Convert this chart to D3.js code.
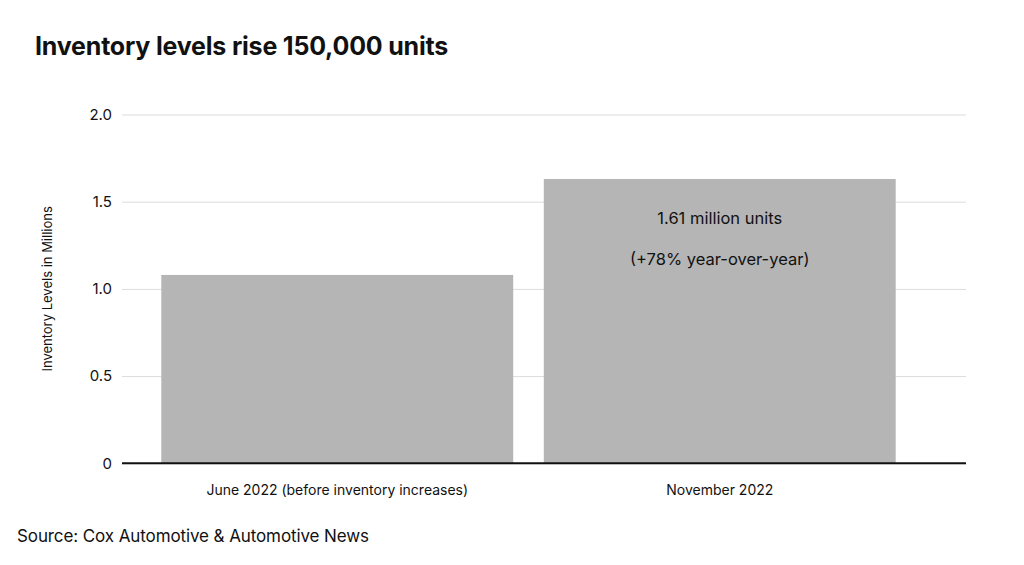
<!DOCTYPE html>
<html>
<head>
<meta charset="utf-8">
<script src="https://cdn.jsdelivr.net/npm/d3@7"></script>
<style>
	body { margin: 0; background: #fff; }
	svg { display: block; font-family: Inter, "Noto Sans", sans-serif; }
</style>
</head>
<body>
<div id="chart"></div>
<script>
// dati
const categories = ["June 2022 (before inventory increases)", "November 2022"];
const values = [1.08, 1.63];
const yTicks = [0, 0.5, 1.0, 1.5, 2.0];
const annotationLines = ["1.61 million units", "(+78% year-over-year)"];

const W = 1024, H = 565;
const plot = { left: 122, right: 966, top: 114.5, bottom: 463.3 };

const svg = d3.select("#chart").append("svg")
	.attr("width", W)
	.attr("height", H);

// scales
const y = d3.scaleLinear().domain([0, 2]).range([plot.bottom, plot.top]);
const x = d3.scaleBand()
	.domain(categories)
	.range([146, 911])
	.paddingInner(0.08)
	.paddingOuter(0.04);

// title
svg.append("text")
	.attr("x", 35)
	.attr("y", 55)
	.style("font-size", "25px")
	.style("font-weight", 700)
	.style("letter-spacing", "-0.2px")
	.style("fill", "#111")
	.text("Inventory levels rise 150,000 units");

// gridlines + tick labels
const yAxis = d3.axisLeft(y)
	.tickValues(yTicks)
	.tickSize(-(plot.right - plot.left))
	.tickPadding(10)
	.tickFormat(d => d === 0 ? "0" : d3.format(".1f")(d));

const gy = svg.append("g")
	.attr("transform", "translate(" + plot.left + ",0)")
	.call(yAxis);
gy.select(".domain").remove();
gy.selectAll(".tick line").attr("stroke", "#dcdcdc").attr("stroke-width", 1);
gy.selectAll(".tick text")
	.style("font-size", "15px")
	.style("fill", "#111")
	.style("font-family", "Inter, sans-serif");

// y label
svg.append("text")
	.attr("transform", "translate(52," + (plot.top + plot.bottom) / 2 + ") rotate(-90)")
	.attr("text-anchor", "middle")
	.style("font-size", "13px")
	.style("fill", "#111")
	.text("Inventory Levels in Millions");

// bars
svg.selectAll(".bar")
	.data(values)
	.enter().append("rect")
	.attr("class", "bar")
	.attr("x", (d, i) => x(categories[i]))
	.attr("width", x.bandwidth())
	.attr("y", d => y(d))
	.attr("height", d => y(0) - y(d))
	.attr("fill", "#b5b5b5");

// zero line
svg.append("line")
	.attr("x1", plot.left)
	.attr("x2", plot.right)
	.attr("y1", y(0))
	.attr("y2", y(0))
	.attr("stroke", "#111")
	.attr("stroke-width", 2);

// category labels
const gx = svg.append("g")
	.attr("transform", "translate(0," + y(0) + ")")
	.call(d3.axisBottom(x).tickSize(0).tickPadding(22));
gx.select(".domain").remove();
gx.selectAll(".tick text")
	.style("font-size", "14px")
	.style("fill", "#111")
	.style("font-family", "Inter, sans-serif");

// annotation inside second bar
const cx = x(categories[1]) + x.bandwidth() / 2;
svg.selectAll(".note")
	.data(annotationLines)
	.enter().append("text")
	.attr("class", "note")
	.attr("x", cx)
	.attr("y", (d, i) => y(values[1]) + 45 + i * 41)
	.attr("text-anchor", "middle")
	.style("font-size", "16.5px")
	.style("fill", "#111")
	.text(d => d);

// source
svg.append("text")
	.attr("x", 17)
	.attr("y", 542)
	.style("font-size", "17px")
	.style("fill", "#111")
	.style("letter-spacing", "-0.1px")
	.text("Source: Cox Automotive & Automotive News");
</script>
</body>
</html>
